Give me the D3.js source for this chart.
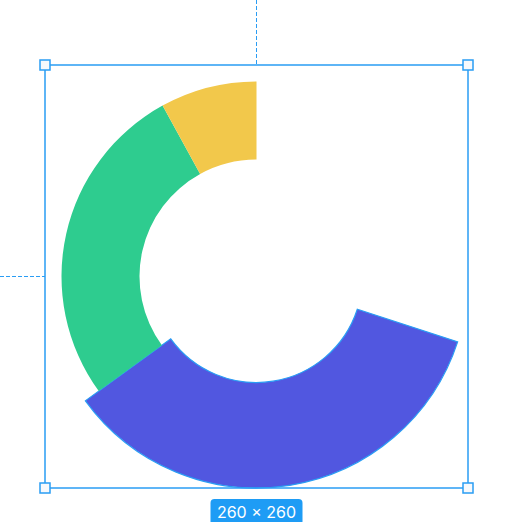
<!DOCTYPE html>
<html>
<head>
<meta charset="utf-8">
<script src="https://cdn.jsdelivr.net/npm/d3@7"></script>
<style>
  html, body { margin: 0; padding: 0; background: #fff; }
  svg { display: block; }
</style>
</head>
<body>
<div id="chart"></div>
<script>
const categories = ["gap", "Blue", "Green", "Yellow"];
const values = [30, 35, 27, 8];
const colors = ["none", "#5157E0", "#2ECC8F", "#F2C84B"];
const sizeLabel = "260 × 260";

const width = 519;
const height = 522;
const cx = 256.5;
const cy = 276.5;
const innerR = 117;
const outerR = 195;
const activeInner = 106;
const activeOuter = 211.5;
const active = 1;
const accent = "#2a9df4";

let svg = d3.select("#chart")
    .append("svg")
    .attr("width", width)
    .attr("height", height);

let pie = d3.pie()
    .sort(null)
    .value(d => d);

let arc = d3.arc();

let slices = pie(values);

let g = svg.append("g")
    .attr("transform", `translate(${cx},${cy})`);

g.selectAll("path")
    .data(slices)
    .enter()
    .append("path")
    .attr("d", (d, i) => arc({
        startAngle: d.startAngle,
        endAngle: d.endAngle,
        innerRadius: i === active ? activeInner : innerR,
        outerRadius: i === active ? activeOuter : outerR
    }))
    .style("fill", (d, i) => colors[i])
    .style("stroke", (d, i) => i === active ? accent : "none")
    .style("stroke-width", 1.2);

// selection box around the active slice
let x0 = cx - activeOuter;
let y0 = cy - activeOuter;
let side = activeOuter * 2;

svg.append("line")
    .attr("x1", cx).attr("y1", 0)
    .attr("x2", cx).attr("y2", y0)
    .style("stroke", accent)
    .style("stroke-width", 1)
    .style("stroke-dasharray", "4,2");
svg.append("line")
    .attr("x1", 0).attr("y1", cy)
    .attr("x2", x0).attr("y2", cy)
    .style("stroke", accent)
    .style("stroke-width", 1)
    .style("stroke-dasharray", "4,2");

svg.append("rect")
    .attr("x", x0)
    .attr("y", y0)
    .attr("width", side)
    .attr("height", side)
    .style("fill", "none")
    .style("stroke", accent)
    .style("stroke-width", 1.5);

let corners = [[x0, y0], [x0 + side, y0], [x0, y0 + side], [x0 + side, y0 + side]];
svg.selectAll(".corners")
    .data(corners)
    .enter()
    .append("rect")
    .attr("class", "corners")
    .attr("x", d => d[0] - 5)
    .attr("y", d => d[1] - 5)
    .attr("width", 10)
    .attr("height", 10)
    .style("fill", "#f7f9fc")
    .style("stroke", accent)
    .style("stroke-width", 1.5);

let tag = svg.append("g")
    .attr("transform", `translate(${cx},${y0 + side + 11})`);
tag.append("rect")
    .attr("x", -46)
    .attr("y", 0)
    .attr("width", 92)
    .attr("height", 26)
    .attr("rx", 4)
    .style("fill", "#1e9cf5");
tag.append("text")
    .attr("x", 0)
    .attr("y", 18.5)
    .attr("text-anchor", "middle")
    .style("font-family", "Inter, 'Noto Sans', sans-serif")
    .style("font-size", "16px")
    .style("fill", "#fff")
    .text(sizeLabel);
</script>
</body>
</html>
